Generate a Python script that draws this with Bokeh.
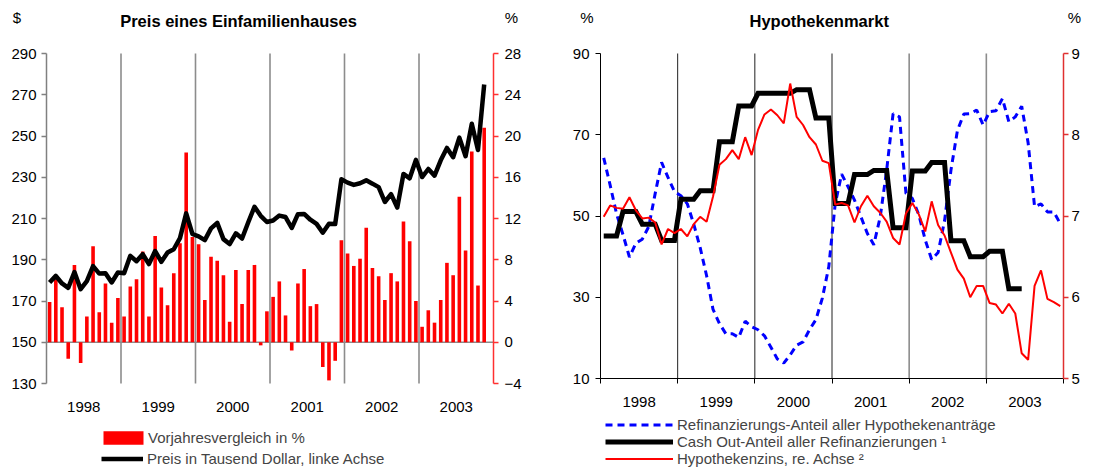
from bokeh.plotting import figure
from bokeh.models import (Range1d, LinearAxis, FixedTicker, Legend, LegendItem,
                          ColumnDataSource)
from bokeh.core.properties import value
from bokeh.layouts import row
from bokeh.embed import file_html
from bokeh.resources import INLINE

# ---------------- data ----------------
years = ["1998", "1999", "2000", "2001", "2002", "2003"]

# Preis eines Einfamilienhauses: Vorjahresvergleich in % (monthly, Jan 1998 - Nov 2003)
yoy_pct = [3.9, 6.1, 3.4, -1.6, 7.5, -2.0, 2.5, 9.3, 2.9, 5.7, 1.9, 4.3,
           2.5, 5.4, 6.1, 8.8, 2.5, 10.3, 5.3, 3.6, 6.7, 9.6, 18.4, 10.2,
           9.5, 4.1, 8.3, 7.9, 6.5, 2.0, 7.0, 3.7, 7.0, 7.5, -0.3, 3.0,
           4.4, 5.9, 2.6, -0.8, 5.7, 7.1, 3.5, 3.7, -2.4, -3.7, -1.8, 9.9,
           8.6, 7.4, 8.1, 11.1, 7.2, 6.4, 4.1, 6.7, 5.9, 11.7, 9.8, 4.0,
           1.5, 3.1, 1.9, 4.1, 7.7, 6.5, 14.1, 8.9, 18.5, 5.5, 20.8]

# Preis in Tausend Dollar (monthly, Jan 1998 - Nov 2003)
price_kusd = [179.0, 182.2, 178.5, 176.4, 184.0, 175.7, 179.6, 186.9, 183.3, 183.5, 179.0, 183.8,
              183.5, 191.9, 189.3, 192.7, 187.9, 194.2, 189.0, 193.5, 195.1, 200.5, 212.5, 202.5,
              201.3, 199.5, 205.2, 207.9, 200.0, 197.6, 202.8, 200.3, 208.2, 215.7, 211.3, 208.3,
              209.0, 211.4, 210.7, 205.4, 212.1, 212.2, 209.4, 207.4, 203.1, 207.5, 207.3, 229.0,
              227.4, 226.3, 227.1, 228.5, 226.9, 225.2, 218.0, 221.8, 215.3, 231.6, 229.5, 238.4,
              230.1, 234.0, 230.8, 238.2, 244.2, 239.7, 249.2, 240.2, 255.9, 243.2, 275.0]

# Refinanzierungs-Anteil aller Hypothekenantraege in % (monthly, Jan 1998 - Dec 2003)
refi_share = [64.3, 57.6, 50.5, 45.4, 39.9, 43.3, 44.3, 47.4, 55.5, 63.2, 59.5, 56.0,
              55.0, 53.0, 48.0, 42.2, 35.3, 27.0, 23.5, 21.0, 21.0, 20.1, 24.1, 22.7,
              22.0, 20.5, 17.7, 14.8, 13.8, 15.8, 18.2, 19.0, 22.0, 24.5, 29.8, 37.5,
              53.0, 60.3, 57.2, 53.9, 49.8, 45.7, 42.9, 49.8, 61.3, 75.2, 74.4, 55.6,
              54.3, 50.3, 44.1, 39.3, 41.0, 48.8, 61.3, 71.0, 75.1, 75.2, 76.1, 72.4,
              75.7, 75.9, 78.9, 73.2, 74.4, 77.0, 68.0, 52.3, 53.0, 51.0, 51.0, 48.1]

# Cash Out-Anteil aller Refinanzierungen in % (monthly, Jan 1998 - Jun 2003)
cashout_share = [45.1, 45.1, 45.1, 51.1, 51.1, 51.1, 48.0, 48.0, 48.0, 44.0, 44.0, 44.0,
                 54.1, 54.1, 54.1, 56.2, 56.2, 56.2, 68.3, 68.3, 68.3, 77.1, 77.1, 77.1,
                 80.2, 80.2, 80.2, 80.2, 80.2, 80.2, 81.1, 81.1, 81.1, 74.1, 74.1, 74.1,
                 53.1, 53.1, 53.1, 60.2, 60.2, 60.2, 61.2, 61.2, 61.2, 47.1, 47.1, 47.1,
                 61.1, 61.1, 61.1, 63.2, 63.2, 63.2, 43.9, 43.9, 43.9, 40.0, 40.0, 40.0,
                 41.3, 41.3, 41.3, 32.1, 32.1, 32.1]

# Hypothekenzins in % (monthly, Jan 1998 - Dec 2003), right axis
mortgage_rate = [6.99, 7.13, 7.10, 7.09, 7.23, 7.07, 6.97, 6.98, 6.92, 6.65, 6.84, 6.79,
                 6.84, 6.75, 6.90, 6.99, 6.93, 7.24, 7.63, 7.70, 7.81, 7.70, 7.97, 7.75,
                 8.06, 8.25, 8.31, 8.24, 8.14, 8.63, 8.22, 8.12, 7.97, 7.88, 7.68, 7.65,
                 7.14, 7.16, 7.13, 6.92, 7.12, 7.25, 7.12, 7.04, 6.93, 6.73, 6.65, 7.03,
                 7.16, 7.02, 6.81, 7.18, 6.89, 6.76, 6.55, 6.34, 6.23, 6.00, 6.14, 6.14,
                 5.93, 5.91, 5.80, 5.92, 5.80, 5.31, 5.23, 6.14, 6.33, 5.98, 5.94, 5.89]

price_ticks = [130, 150, 170, 190, 210, 230, 250, 270, 290]
pct_ticks = [-4, 0, 4, 8, 12, 16, 20, 24, 28]
share_ticks = [10, 30, 50, 70, 90]
rate_ticks = [5, 6, 7, 8, 9]

titles = ["Preis eines Einfamilienhauses", "Hypothekenmarkt"]
unit_left = ["$", "%"]
unit_right = ["%", "%"]
legend_left = ["Vorjahresvergleich in %", "Preis in Tausend Dollar, linke Achse"]
legend_right = ["Refinanzierungs-Anteil aller Hypothekenanträge",
                "Cash Out-Anteil aller Refinanzierungen \u00b9",
                "Hypothekenzins, re. Achse \u00b2"]

# ---------------- layout helpers ----------------
FONT = "Liberation Sans"
FS = "15px"
n_months = 12 * len(years)
year_centers = [12 * i + 6 for i in range(len(years))]
year_bounds = [12 * i for i in range(1, len(years))]
year_edges = [12 * i for i in range(len(years) + 1)]
PW, PH = 560, 470          # canvas of each panel (the frame fills it)
TOP = 53                   # pixel row of the top tick of both panels


def mx(vals):
    return [i + 0.5 for i in range(len(vals))]


def style_axis(ax, color, width=1.0, tick_out=5, standoff=5):
    ax.axis_line_color = color
    ax.axis_line_width = width
    ax.major_tick_line_color = color
    ax.major_tick_line_width = width
    ax.minor_tick_line_color = None
    ax.major_tick_in = 0
    ax.major_tick_out = tick_out
    ax.major_label_text_font = FONT
    ax.major_label_text_font_size = FS
    ax.major_label_text_color = "black"
    ax.major_label_standoff = standoff


def ranges(left_px, plot_w, bottom_px, lo, hi):
    """x range (months) and y range (lo..hi on the pixel rows TOP..bottom_px) filling the canvas."""
    xs = plot_w / n_months
    x0 = -left_px / xs
    x1 = (PW - left_px) / xs
    ys = (bottom_px - TOP) / (hi - lo)
    y1 = hi + TOP / ys
    y0 = hi - (PH - TOP) / ys
    return Range1d(x0, x1), Range1d(y0, y1)


def make_legend(items, loc, gw, standoff, row_h):
    return Legend(items=items, location=loc, glyph_width=gw, glyph_height=row_h,
                  label_height=row_h, label_standoff=standoff, padding=0, spacing=0,
                  margin=0, border_line_color=None, background_fill_alpha=0,
                  label_text_font=FONT, label_text_font_size=FS)


def base_figure(xr, yr):
    p = figure(width=PW, height=PH, x_range=xr, y_range=yr,
               output_backend="svg", toolbar_location=None, min_border=0,
               x_axis_location=None, y_axis_location=None)
    p.grid.visible = False
    p.outline_line_color = None
    return p


def add_texts(p, title, tx, ty, ul, ulx, ur, urx, uy):
    p.text(x=[tx], y=[ty], text=[title], text_font=value(FONT),
           text_font_size=value("16.5px"), text_font_style="bold",
           text_align="center", text_baseline="middle", text_color="black")
    p.text(x=[ulx, urx], y=[uy, uy], text=[ul, ur], text_font=value(FONT),
           text_font_size=value(FS), text_align="center", text_baseline="middle",
           text_color="black")


# ---------------- left panel ----------------
xr1, yr1 = ranges(46, 447, 383, price_ticks[0], price_ticks[-1])
_, pr1 = ranges(46, 447, 383, pct_ticks[0], pct_ticks[-1])
p1 = base_figure(xr1, yr1)
p1.extra_y_ranges = {"pct": pr1}
px1 = 447 / n_months
py1 = 330 / (price_ticks[-1] - price_ticks[0])

axl = LinearAxis(ticker=FixedTicker(ticks=price_ticks), fixed_location=0,
                 bounds=(price_ticks[0], price_ticks[-1]))
style_axis(axl, "#808080", 1.5, 5, 5)
p1.add_layout(axl, "left")

axr = LinearAxis(y_range_name="pct", ticker=FixedTicker(ticks=pct_ticks), fixed_location=n_months,
                 bounds=(pct_ticks[0], pct_ticks[-1]))
style_axis(axr, "#FF3030", 1.5, 5, 6)
p1.add_layout(axr, "right")

axb = LinearAxis(ticker=FixedTicker(ticks=year_centers), fixed_location=price_ticks[0],
                 major_label_overrides={c: y for c, y in zip(year_centers, years)})
style_axis(axb, None, 1, 0, 18)
p1.add_layout(axb, "below")

nb = len(year_bounds)
p1.segment(x0=year_bounds, y0=[price_ticks[0]] * nb, x1=year_bounds, y1=[price_ticks[-1]] * nb,
           line_color="#8C8C8C", line_width=1.6)
p1.segment(x0=[0], y0=[price_ticks[1]], x1=[n_months], y1=[price_ticks[1]],
           line_color="#8C8C8C", line_width=1.6)

src1 = ColumnDataSource(dict(x=mx(yoy_pct), yoy=yoy_pct))
bars = p1.vbar(x="x", top="yoy", bottom=0, width=0.58, source=src1, y_range_name="pct",
               fill_color="#FF0000", line_color=None)
src2 = ColumnDataSource(dict(x=mx(price_kusd), price=price_kusd))
pline = p1.line(x="x", y="price", source=src2, line_color="black", line_width=4.5,
                line_join="round")

add_texts(p1, titles[0], (238 - 46) / px1, price_ticks[-1] + (TOP - 20) / py1,
          unit_left[0], (16.5 - 46) / px1, unit_right[0], (511 - 46) / px1,
          price_ticks[-1] + (TOP - 17) / py1)

leg1 = make_legend([LegendItem(label=legend_left[0], renderers=[bars])], (98, 24), 50, 0, 17)
leg2 = make_legend([LegendItem(label=legend_left[1], renderers=[pline])], (101, 3), 42, 4, 17)
p1.add_layout(leg1)
p1.add_layout(leg2)

# ---------------- right panel ----------------
xr2, yr2 = ranges(40, 463, 378, share_ticks[0], share_ticks[-1])
_, rr2 = ranges(40, 463, 378, rate_ticks[0], rate_ticks[-1])
p2 = base_figure(xr2, yr2)
p2.extra_y_ranges = {"rate": rr2}
px2 = 463 / n_months
py2 = 325 / (share_ticks[-1] - share_ticks[0])

bl = LinearAxis(ticker=FixedTicker(ticks=share_ticks), fixed_location=0,
                bounds=(share_ticks[0], share_ticks[-1]))
style_axis(bl, "black", 1, 5, 6)
p2.add_layout(bl, "left")

br = LinearAxis(y_range_name="rate", ticker=FixedTicker(ticks=rate_ticks), fixed_location=n_months,
                bounds=(rate_ticks[0], rate_ticks[-1]))
style_axis(br, "#E03030", 1.5, 5, 3)
p2.add_layout(br, "right")

bb = LinearAxis(ticker=FixedTicker(ticks=year_centers, minor_ticks=year_edges),
                fixed_location=share_ticks[0], bounds=(0, n_months),
                major_label_overrides={c: y for c, y in zip(year_centers, years)})
style_axis(bb, "black", 1, 0, 13)
bb.major_tick_line_color = None
bb.minor_tick_line_color = "black"
bb.minor_tick_in = 0
bb.minor_tick_out = 5
p2.add_layout(bb, "below")

dark, light = year_bounds[:3], year_bounds[3:]
p2.segment(x0=dark, y0=[share_ticks[0]] * len(dark), x1=dark, y1=[share_ticks[-1]] * len(dark),
           line_color="#202020", line_width=1)
p2.segment(x0=light, y0=[share_ticks[0]] * len(light), x1=light, y1=[share_ticks[-1]] * len(light),
           line_color="#8C8C8C", line_width=1.6)

s_refi = ColumnDataSource(dict(x=mx(refi_share), y=refi_share))
r_refi = p2.line(x="x", y="y", source=s_refi, line_color="#0000FF", line_width=3,
                 line_dash="7 5")
s_cash = ColumnDataSource(dict(x=mx(cashout_share), y=cashout_share))
r_cash = p2.line(x="x", y="y", source=s_cash, line_color="black", line_width=5,
                 line_join="miter")
s_rate = ColumnDataSource(dict(x=mx(mortgage_rate), y=mortgage_rate))
r_rate = p2.line(x="x", y="y", source=s_rate, line_color="#FF0000", line_width=2,
                 y_range_name="rate")

add_texts(p2, titles[1], (818.7 - 600) / px2, share_ticks[-1] + (TOP - 20) / py2,
          unit_left[1], (586.5 - 600) / px2, unit_right[1], (1074 - 600) / px2,
          share_ticks[-1] + (TOP - 17) / py2)

leg3 = make_legend([LegendItem(label=legend_right[0], renderers=[r_refi]),
                    LegendItem(label=legend_right[1], renderers=[r_cash]),
                    LegendItem(label=legend_right[2], renderers=[r_rate])],
                   (45, 3), 68, 4, 17)
p2.add_layout(leg3)

layout = row(p1, p2, spacing=0)
open("out.html", "w").write(file_html(layout, INLINE))
